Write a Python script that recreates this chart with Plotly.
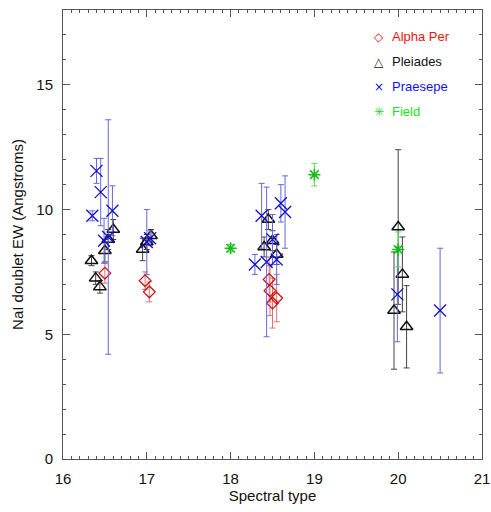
import plotly.graph_objects as go

# ---- data ----
alpha_x = [16.5, 16.98, 17.03, 18.46, 18.47, 18.5, 18.55]
alpha_y = [7.45, 7.15, 6.7, 7.2, 6.75, 6.25, 6.45]
alpha_err = [0.4, 0.35, 0.4, 0.9, 1.0, 1.0, 0.95]

pleiades_x = [16.34, 16.39, 16.44, 16.5, 16.54, 16.6, 16.95, 17.0, 17.05,
              18.4, 18.45, 18.5, 18.55, 20.0, 20.05, 19.95, 20.1]
pleiades_y = [7.95, 7.25, 6.9, 8.35, 8.8, 9.2, 8.4, 8.7, 8.95,
              8.5, 9.6, 8.75, 8.2, 9.3, 7.4, 5.95, 5.3]
pleiades_err = [0.2, 0.25, 0.25, 0.45, 0.4, 0.4, 0.45, 0.3, 0.25,
                0.4, 0.4, 0.4, 0.4, 3.1, 1.5, 2.35, 1.65]

praesepe_x = [16.35, 16.4, 16.45, 16.49, 16.54, 16.59, 17.0, 17.04,
              18.29, 18.37, 18.43, 18.5, 18.55, 18.6, 18.65, 19.99, 20.5]
praesepe_y = [9.75, 11.55, 10.7, 8.75, 8.9, 9.95, 8.7, 8.85,
              7.8, 9.75, 7.9, 8.8, 8.0, 10.25, 9.9, 6.6, 5.95]
praesepe_err = [0.2, 0.5, 1.35, 0.9, 4.7, 1.0, 1.3, 0.3,
                0.4, 1.3, 3.0, 1.0, 1.0, 0.75, 1.45, 1.9, 2.5]

field_x = [18.0, 19.0, 20.0]
field_y = [8.45, 11.4, 8.4]
field_err = [0.15, 0.45, 0.7]

legend_names = ["Alpha Per", "Pleiades", "Praesepe", "Field"]
legend_glyphs = ["\u25c7", "\u25b3", "\u00d7", "\u2733"]
legend_colors = ["#ee1111", "#111111", "#1111ee", "#22dd22"]

x_ticks = [16, 17, 18, 19, 20, 21]
y_ticks = [0, 5, 10, 15]
x_range = [16, 21]
y_range = [0, 18]

fig = go.Figure()

def add_series(x, y, err, symbol, color, ecolor, size, lw):
    fig.add_trace(go.Scatter(
        x=x, y=y, mode="markers",
        marker=dict(symbol=symbol, size=size, color=color,
                    line=dict(color=color, width=lw)),
        error_y=dict(type="data", array=err, visible=True,
                     color=ecolor, thickness=1, width=3),
        showlegend=False, hoverinfo="skip"))

add_series(alpha_x, alpha_y, alpha_err, "diamond-open", "#cc1111", "#e07070", 9, 1.3)
add_series(pleiades_x, pleiades_y, pleiades_err, "triangle-up-open", "#111111", "#444444", 11, 1.5)
add_series(praesepe_x, praesepe_y, praesepe_err, "x-thin-open", "#1111cc", "#6666e0", 12, 1.3)
add_series(field_x, field_y, field_err, "asterisk-open", "#11bb11", "#55dd55", 10, 1.5)

# legend as coloured text annotations (top right, inside the frame)
for i, (g, n, c) in enumerate(zip(legend_glyphs, legend_names, legend_colors)):
    yy = 0.94 - i * 0.0555
    fig.add_annotation(x=0.755, y=yy, xref="paper", yref="paper",
                       text=g, showarrow=False, xanchor="center", yanchor="middle",
                       font=dict(size=12, color=c, family="DejaVu Sans"))
    fig.add_annotation(x=0.78, y=yy, xref="paper", yref="paper",
                       text=n, showarrow=False, xanchor="left", yanchor="middle",
                       font=dict(size=13, color=c, family="Liberation Sans, Arial"))

tick_col = "#555555"
axis_common = dict(showgrid=False, zeroline=False, showline=True, linecolor=tick_col,
                   linewidth=1, ticks="inside", ticklen=7,
                   tickcolor=tick_col, tickfont=dict(size=15, color="#111111"))

fig.update_layout(
    xaxis=dict(range=x_range, tickvals=x_ticks, ticklabelstandoff=6, **axis_common,
               minor=dict(dtick=0.1, ticks="inside", ticklen=3, tickcolor=tick_col),
               title=dict(text="Spectral type", font=dict(size=15, color="#111111"), standoff=2)),
    yaxis=dict(range=y_range, tickvals=y_ticks, ticklabelstandoff=6, **axis_common,
               minor=dict(dtick=1, ticks="inside", ticklen=3, tickcolor=tick_col),
               title=dict(text="NaI doublet EW (Angstroms)", font=dict(size=15, color="#111111"), standoff=9)),
    xaxis2=dict(range=x_range, tickvals=x_ticks, overlaying="x", side="top",
                showticklabels=False, **axis_common,
                minor=dict(dtick=0.1, ticks="inside", ticklen=3, tickcolor=tick_col)),
    yaxis2=dict(range=y_range, tickvals=y_ticks, overlaying="y", side="right",
                showticklabels=False, **axis_common,
                minor=dict(dtick=1, ticks="inside", ticklen=3, tickcolor=tick_col)),
)
# invisible trace to activate the mirrored axes
fig.add_trace(go.Scatter(x=[x_range[0]], y=[y_range[0]], xaxis="x2", yaxis="y2",
                         mode="markers", marker=dict(opacity=0), showlegend=False,
                         hoverinfo="skip"))

fig.update_layout(width=491, height=512, margin=dict(l=63, r=9, t=10, b=53, autoexpand=False),
                  plot_bgcolor="white", paper_bgcolor="white",
                  font=dict(family="Liberation Sans, Arial, Helvetica", color="#111111"))

fig.write_html("out.html")
